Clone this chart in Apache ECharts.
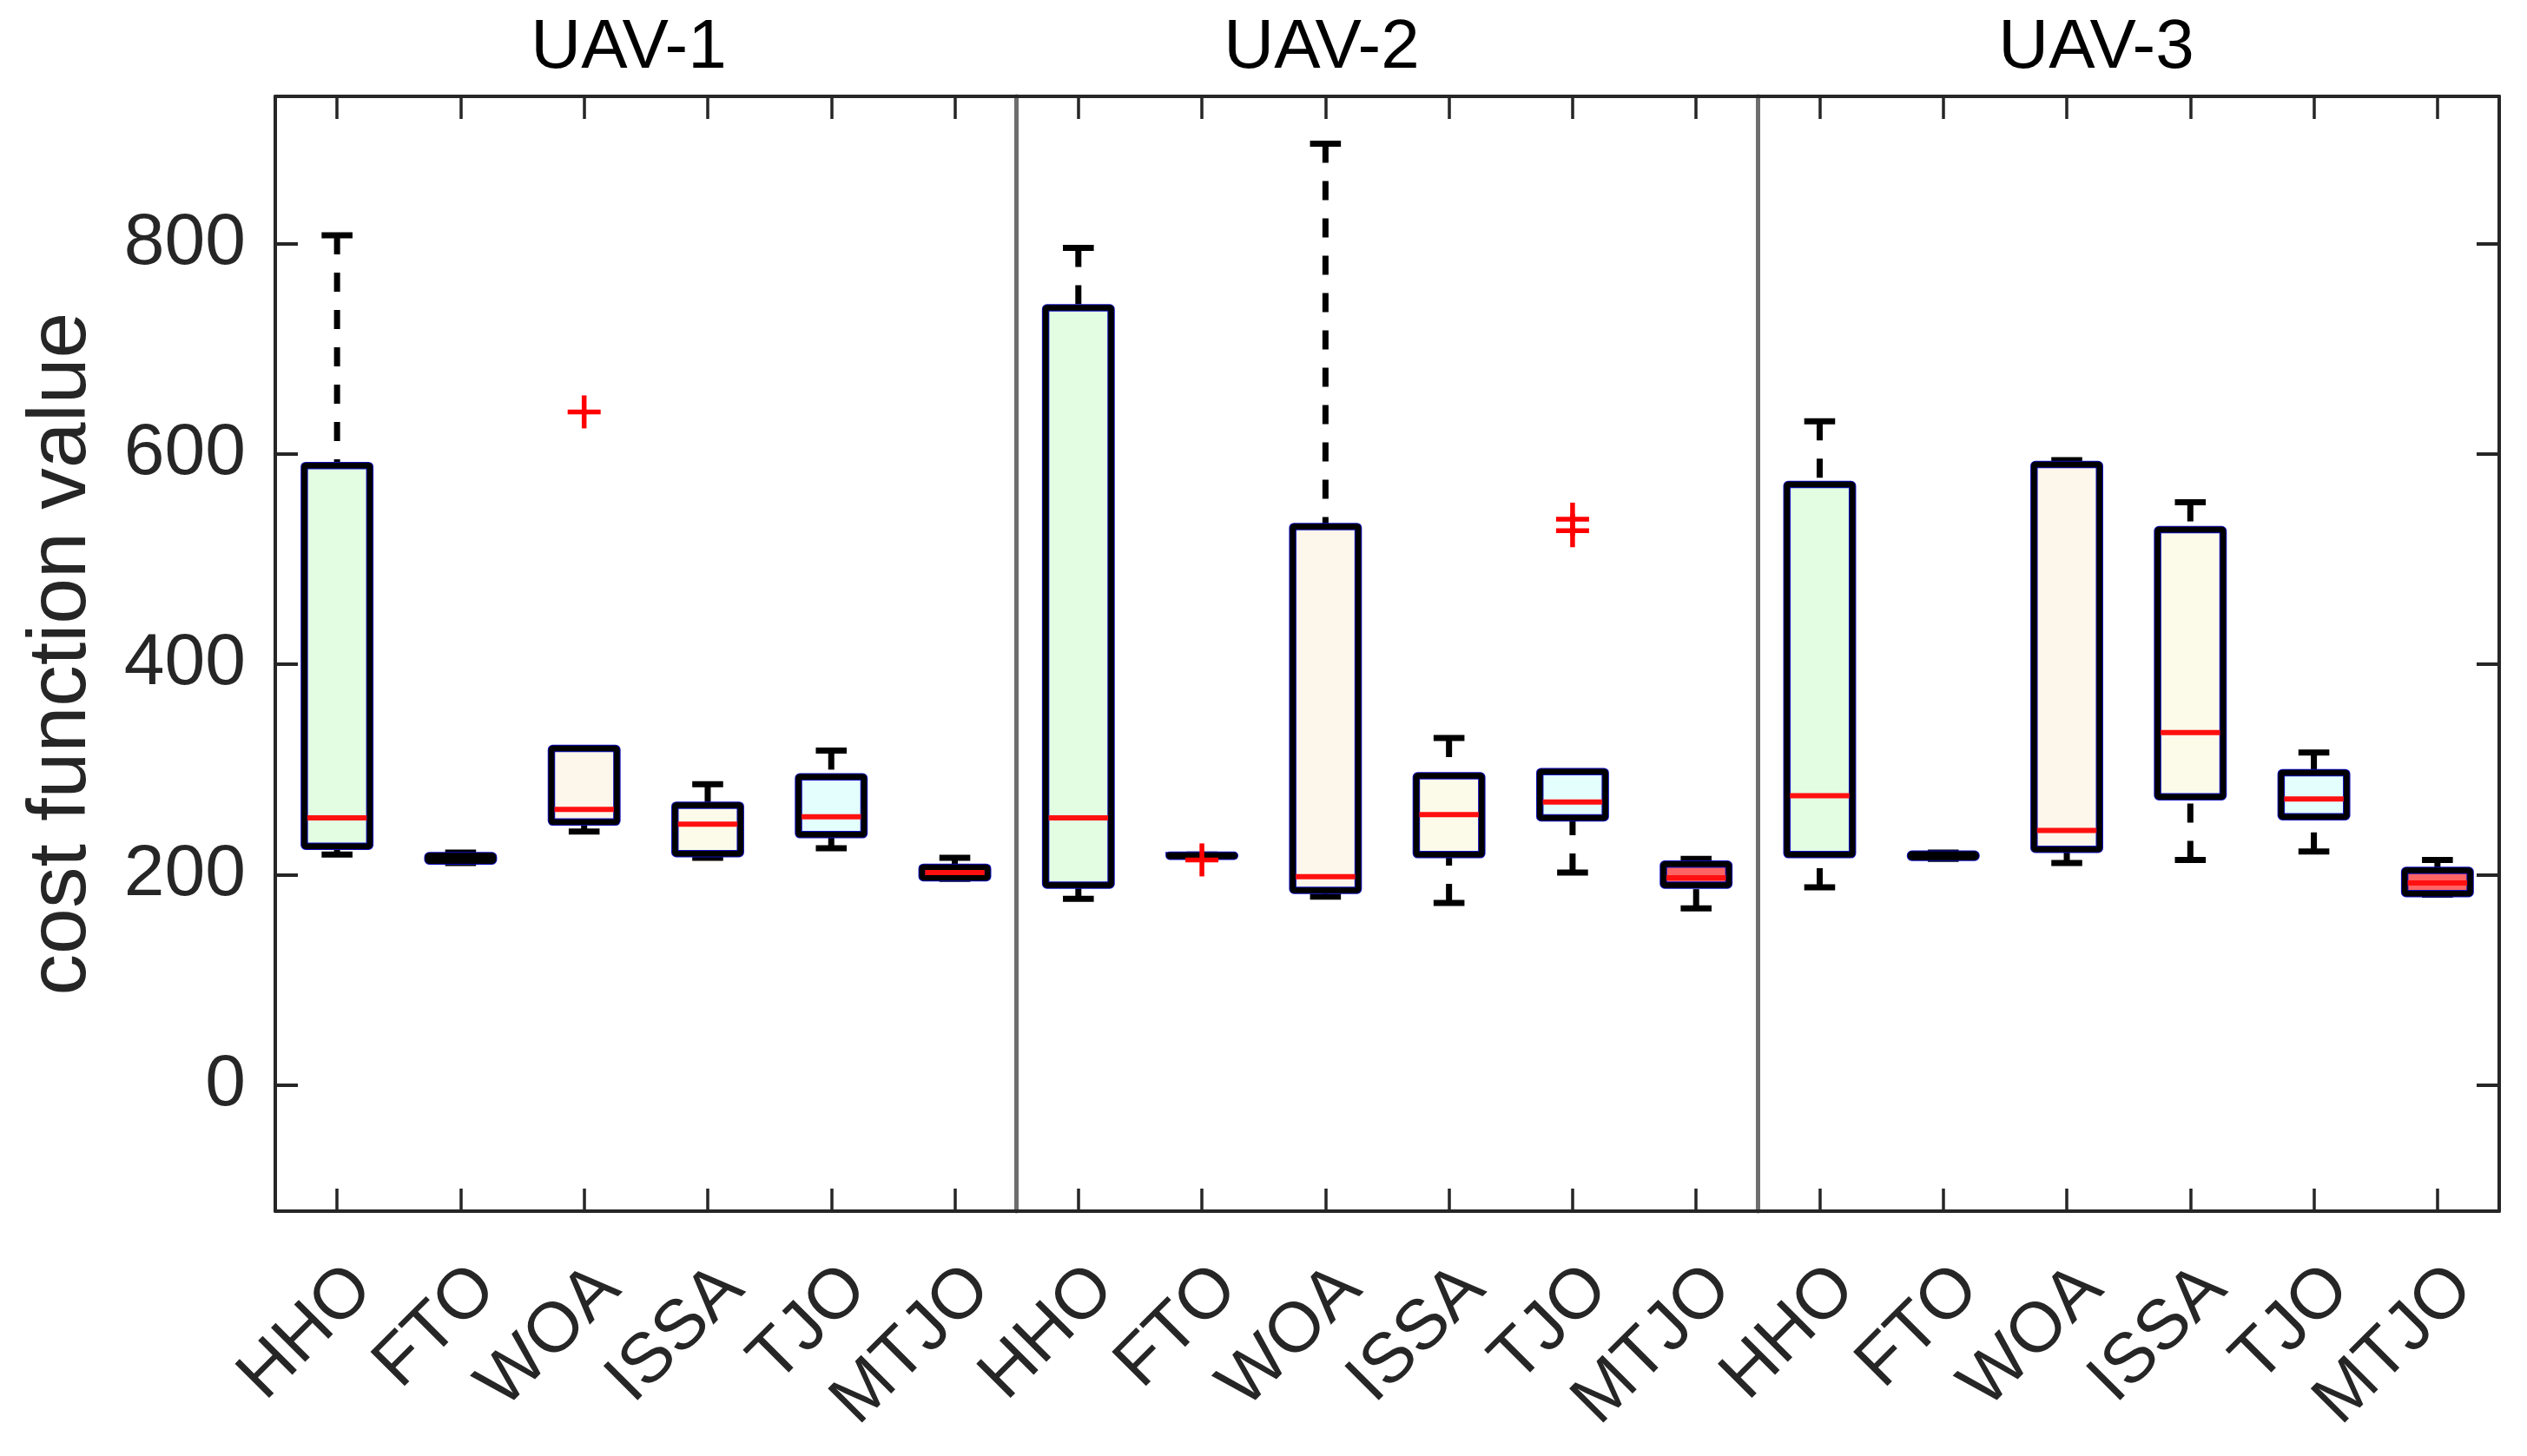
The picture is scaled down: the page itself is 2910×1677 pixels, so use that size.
<!DOCTYPE html>
<html>
<head>
<meta charset="utf-8">
<script src="https://cdn.jsdelivr.net/npm/echarts@6/dist/echarts.min.js"></script>
<style>
html,body{margin:0;padding:0;background:#ffffff;}
#chart{width:2910px;height:1677px;}
</style>
</head>
<body>
<div id="chart"></div>
<script>
// ---------- data ----------
const categories = ['HHO', 'FTO', 'WOA', 'ISSA', 'TJO', 'MTJO'];
const panelTitles = ['UAV-1', 'UAV-2', 'UAV-3'];
const yTickValues = [0, 200, 400, 600, 800];
const yMin = -120;
const yMax = 940;

// UAV-1 statistics per algorithm
const uav1Min    = [219, 211, 241, 216, 225, 196];
const uav1Q1     = [227, 213, 250, 220, 238, 197];
const uav1Median = [254, 215, 262, 248, 255, 202];
const uav1Q3     = [589, 218, 320, 266, 293, 207];
const uav1Max    = [808, 221, 320, 286, 318, 216];
const uav1Outliers = [[2, 640]];

// UAV-2 statistics per algorithm
const uav2Min    = [177, 217, 179, 173, 202, 168];
const uav2Q1     = [190, 217.5, 185, 219, 254, 190];
const uav2Median = [254, 218, 198, 257, 269, 197];
const uav2Q3     = [739, 218.5, 531, 294, 298, 210];
const uav2Max    = [796, 219, 895, 330, 298, 215];
const uav2Outliers = [[1, 214], [4, 538], [4, 527]];

// UAV-3 statistics per algorithm
const uav3Min    = [188, 215, 211, 214, 222, 181];
const uav3Q1     = [219, 216.5, 224, 274, 255, 182];
const uav3Median = [275, 218, 242, 335, 272, 192];
const uav3Q3     = [571, 219.5, 590, 528, 297, 204];
const uav3Max    = [631, 221, 594, 554, 316, 214];
const uav3Outliers = [];

const boxFill = ['#e3fde3', '#e8e8fc', '#fdf6ea', '#fcfbe9', '#e4fdfd', '#ff6464'];

// ---------- layout ----------
const plotLeft = 317, plotRight = 2878, plotTop = 111, plotBottom = 1395;
const panelW = (plotRight - plotLeft) / 3;
const titleCenters = [724, 1522, 2414];

const statSets = [
  [uav1Min, uav1Q1, uav1Median, uav1Q3, uav1Max, uav1Outliers],
  [uav2Min, uav2Q1, uav2Median, uav2Q3, uav2Max, uav2Outliers],
  [uav3Min, uav3Q1, uav3Median, uav3Q3, uav3Max, uav3Outliers]
];

const FONT = "'Liberation Sans', Arial, Helvetica, sans-serif";
const AXIS_COLOR = '#262626';
const DIV_COLOR = '#6e6e6e';

function renderBox(params, api) {
  const x = api.value(0);
  const lo = api.coord([x, api.value(1)]);
  const q1 = api.coord([x, api.value(2)]);
  const md = api.coord([x, api.value(3)]);
  const q3 = api.coord([x, api.value(4)]);
  const hi = api.coord([x, api.value(5)]);
  const band = api.size([1, 0])[0];
  const bw = band * 0.53;
  const cw = band * 0.25;
  const cx = lo[0];
  const fill = boxFill[api.value(0)];
  const ch = [];
  if (q3[1] - hi[1] > 1) {
    ch.push({type: 'line', shape: {x1: cx, y1: hi[1], x2: cx, y2: q3[1]},
      style: {stroke: '#000', lineWidth: 7, lineDash: [22, 21]}});
  }
  if (lo[1] - q1[1] > 1) {
    ch.push({type: 'line', shape: {x1: cx, y1: lo[1], x2: cx, y2: q1[1]},
      style: {stroke: '#000', lineWidth: 7, lineDash: [22, 21]}});
  }
  ch.push({type: 'line', shape: {x1: cx - cw / 2, y1: hi[1], x2: cx + cw / 2, y2: hi[1]},
    style: {stroke: '#000', lineWidth: 7}});
  ch.push({type: 'line', shape: {x1: cx - cw / 2, y1: lo[1], x2: cx + cw / 2, y2: lo[1]},
    style: {stroke: '#000', lineWidth: 7}});
  const rectShape = {x: cx - bw / 2, y: q3[1], width: bw, height: Math.max(q1[1] - q3[1], 0.5), r: 1.5};
  ch.push({type: 'rect', shape: rectShape, style: {fill: fill, stroke: '#1010c0', lineWidth: 8.5}});
  ch.push({type: 'rect', shape: rectShape, style: {fill: 'none', stroke: '#000', lineWidth: 6.5}});
  if (q1[1] - q3[1] > 9) {
    ch.push({type: 'line', shape: {x1: cx - bw / 2 + 3.5, y1: md[1], x2: cx + bw / 2 - 3.5, y2: md[1]},
      style: {stroke: '#ff1010', lineWidth: 6}});
  }
  return {type: 'group', children: ch};
}

function renderOutlier(params, api) {
  const p = api.coord([api.value(0), api.value(1)]);
  const s = 19;
  return {type: 'group', children: [
    {type: 'line', shape: {x1: p[0] - s, y1: p[1], x2: p[0] + s, y2: p[1]}, style: {stroke: '#ff0000', lineWidth: 5.5}},
    {type: 'line', shape: {x1: p[0], y1: p[1] - s, x2: p[0], y2: p[1] + s}, style: {stroke: '#ff0000', lineWidth: 5.5}}
  ]};
}

const grids = [], xAxes = [], yAxes = [], series = [], graphics = [];

for (let i = 0; i < 3; i++) {
  grids.push({left: plotLeft + i * panelW, width: panelW, top: plotTop, height: plotBottom - plotTop, containLabel: false});
  // bottom category axis
  xAxes.push({
    type: 'category', gridIndex: i, position: 'bottom', data: categories, boundaryGap: true,
    axisLine: {show: true, onZero: false, lineStyle: {color: AXIS_COLOR, width: 4}},
    axisTick: {show: true, inside: true, alignWithLabel: true, length: 26, lineStyle: {color: AXIS_COLOR, width: 3.5}},
    axisLabel: {show: true, rotate: 45, margin: 48, verticalAlign: 'top', fontSize: 81, color: AXIS_COLOR, fontFamily: FONT, interval: 0},
    splitLine: {show: false}
  });
  // top category axis (box frame)
  xAxes.push({
    type: 'category', gridIndex: i, position: 'top', data: categories, boundaryGap: true,
    axisLine: {show: true, onZero: false, lineStyle: {color: AXIS_COLOR, width: 4}},
    axisTick: {show: true, inside: true, alignWithLabel: true, length: 26, lineStyle: {color: AXIS_COLOR, width: 3.5}},
    axisLabel: {show: false},
    splitLine: {show: false}
  });
  if (i === 0) {
    yAxes.push({
      type: 'value', gridIndex: 0, position: 'left', min: yMin, max: yMax,
      name: 'cost function value', nameLocation: 'middle', nameGap: 198, nameRotate: 90,
      nameTextStyle: {fontSize: 95, color: AXIS_COLOR, fontFamily: FONT},
      axisLine: {show: true, onZero: false, lineStyle: {color: AXIS_COLOR, width: 4}},
      axisTick: {show: true, inside: true, length: 26, customValues: yTickValues, lineStyle: {color: AXIS_COLOR, width: 4}},
      axisLabel: {show: true, margin: 34, fontSize: 84, color: AXIS_COLOR, fontFamily: FONT, customValues: yTickValues},
      splitLine: {show: false}
    });
  } else {
    yAxes.push({
      type: 'value', gridIndex: i, position: 'left', min: yMin, max: yMax,
      axisLine: {show: true, onZero: false, lineStyle: {color: DIV_COLOR, width: 5}},
      axisTick: {show: false}, axisLabel: {show: false}, splitLine: {show: false}
    });
  }
  const s = statSets[i];
  const boxData = categories.map((c, k) => [k, s[0][k], s[1][k], s[2][k], s[3][k], s[4][k]]);
  series.push({
    type: 'custom', xAxisIndex: 2 * i, yAxisIndex: i, renderItem: renderBox,
    encode: {x: 0, y: [1, 2, 3, 4, 5]}, data: boxData, z: 5, clip: false, silent: true
  });
  series.push({
    type: 'custom', xAxisIndex: 2 * i, yAxisIndex: i, renderItem: renderOutlier,
    encode: {x: 0, y: 1}, data: s[5], z: 6, silent: true
  });
  graphics.push({
    type: 'text', x: titleCenters[i], y: 56,
    style: {text: panelTitles[i], fontSize: 80, fill: '#000', fontFamily: FONT, textAlign: 'center', textVerticalAlign: 'middle'}
  });
}
// right frame axis on the last panel
yAxes.push({
  type: 'value', gridIndex: 2, position: 'right', min: yMin, max: yMax,
  axisLine: {show: true, onZero: false, lineStyle: {color: AXIS_COLOR, width: 4}},
  axisTick: {show: true, inside: true, length: 26, customValues: yTickValues, lineStyle: {color: AXIS_COLOR, width: 4}},
  axisLabel: {show: false}, splitLine: {show: false}
});

const chart = echarts.init(document.getElementById('chart'), null, {renderer: 'canvas'});
chart.setOption({
  backgroundColor: '#ffffff',
  animation: false,
  textStyle: {fontFamily: FONT},
  grid: grids,
  xAxis: xAxes,
  yAxis: yAxes,
  series: series,
  graphic: graphics
});
</script>
</body>
</html>
